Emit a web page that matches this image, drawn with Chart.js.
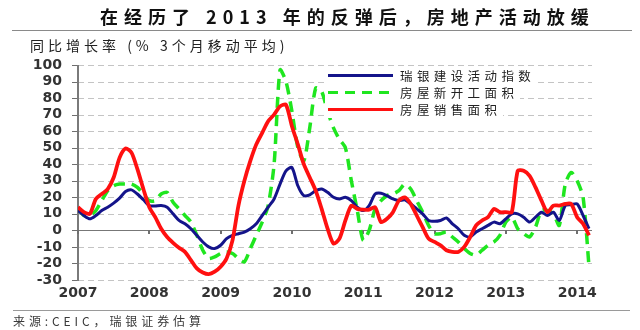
<!DOCTYPE html>
<html>
<head>
<meta charset="utf-8">
<script src="https://cdn.jsdelivr.net/npm/chart.js@4.4.0/dist/chart.umd.min.js"></script>
<style>
  html, body { margin: 0; padding: 0; background: #fff; }
  #wrap { position: relative; width: 640px; height: 330px; overflow: hidden; font-family: "Noto Sans CJK SC", sans-serif; }
  #grid { position: absolute; left: 0; top: 0; width: 640px; height: 330px; }
  #chart { position: absolute; left: 0; top: 0; }
  .txt { position: absolute; white-space: nowrap; color: #222; }
  #title { left: 100px; top: 5px; font-size: 18px; line-height: 22px; font-weight: bold; color: #111; letter-spacing: 6px; }
  #sub { left: 30px; top: 36px; font-size: 14px; line-height: 18px; letter-spacing: 4px; }
  #src { left: 13px; top: 313px; font-size: 12px; line-height: 16px; color: #3a3a3a; letter-spacing: 3.9px; }
  .rule { position: absolute; height: 0; border-top: 1.5px solid #8a8a8a; }
  #legend { position: absolute; left: 325px; top: 67px; }
  .lg-row { position: relative; height: 17px; background: #fff; }
  .lg-line { position: absolute; left: 3px; top: 7px; width: 65px; height: 3px; }
  .lg-text { position: absolute; left: 75px; top: 0; font-size: 12.5px; line-height: 17px; white-space: nowrap; letter-spacing: 4.4px; color: #222; }
  .gl { position: absolute; height: 1px; background: repeating-linear-gradient(to right, #c4c4c4 0 6px, transparent 6px 10px); }
  .zl { position: absolute; height: 1px; background: #777; }
  .ax { position: absolute; width: 2px; background: #7a7a7a; }
  .tk { position: absolute; height: 1px; width: 6px; background: #6f6f6f; }
  .yt { position: absolute; width: 2px; height: 4px; background: #6f6f6f; }
</style>
</head>
<body>
<div id="wrap">
  <div id="grid"></div>
  <canvas id="chart" width="640" height="330"></canvas>
  <div class="txt" id="title">在经历了 2013 年的反弹后，房地产活动放缓</div>
  <div class="rule" style="left:12px; width:620px; top:30px;"></div>
  <div class="txt" id="sub">同比增长率 (% 3个月移动平均)</div>
  <div id="legend"></div>
  <div class="rule" style="left:13px; width:617px; top:310px; border-top-color:#9a9a9a;"></div>
  <div class="txt" id="src">来源:CEIC，瑞银证券估算</div>
</div>
<script>
// ─── Data (monthly, Jan 2007 – Mar 2014) ───
const yearLabels = ['2007', '2008', '2009', '2010', '2011', '2012', '2013', '2014'];
const seriesNames = ['瑞银建设活动指数', '房屋新开工面积', '房屋销售面积'];

const ubsActivity = [
  12, 9, 7, 9, 12, 14, 16.5, 19.5, 23.5, 24.5, 22, 18.5,
  15, 14.8, 15, 14, 10, 6, 4, 1, -3, -7, -10, -11,
  -9, -5, -3, -2, -1, 1, 4, 9, 14, 19, 28, 36,
  38, 27, 21, 21.5, 24, 25, 23, 20, 19, 20, 18, 14,
  12, 15, 22, 22.5, 21, 19, 18, 18.5, 16, 13, 10, 6,
  5.5, 6, 7.5, 4, 1, -3, -4, -1, 1, 3, 5, 4,
  7, 10, 10, 8, 5, 8, 11, 9, 11, 6, 15, 15.5,
  16, 9, 1
];
const newStarts = [
  13, 9, 9, 12, 18, 24, 27, 28, 28, 28, 26, 22,
  18, 18, 22, 23, 17, 13, 9, 5, -3, -12, -17, -16,
  -14, -13, -14, -17, -19, -11, -3, 5, 15, 40, 97, 90,
  72, 50, 42, 62, 86, 84, 72, 62, 55, 50, 30, 12,
  -6, 0, 13, 18, 21, 22, 24, 28, 25, 18, 11, 3,
  -2, -2, -1, -4, -7, -11, -14, -15, -12, -9, -7, -3,
  5, 8, 1, -2, -4, 2, 12, 12, 10, 3, 28, 35,
  30, 20, -22
];
const salesArea = [
  14, 11, 10, 19, 22, 25, 32, 44, 49.5, 47, 37, 25,
  14, 8, 1, -4, -7.5, -10.5, -13, -18, -23, -25.5, -26.5, -25,
  -22, -17, -6, 15, 30, 42, 52, 59, 66, 70, 75, 76,
  63, 52, 40, 32, 24, 13, 1, -8, -5, 6, 15, 13,
  12.5, 12.5, 14, 5, 7, 11, 18, 20, 16, 9, 2, -5,
  -7, -9, -12, -13, -13, -10, -4, 3, 6, 8, 13, 11,
  11, 11, 36, 36, 33, 26, 18, 11, 15, 15, 16, 16,
  8, 4, -3
];
const months = ubsActivity.map((_, i) => i);   // months since Jan 2007

const COLORS = { navy: '#14148a', green: '#1fe61f', red: '#ff1010' };

// ─── Legend (HTML, sits inside the plot) ───
const legendItems = [
  { name: seriesNames[0], bg: COLORS.navy, w: 212 },
  { name: seriesNames[1], bg: `repeating-linear-gradient(to right, ${COLORS.green} 0 10px, transparent 10px 17px)`, w: 195 },
  { name: seriesNames[2], bg: COLORS.red, w: 178 },
];
document.getElementById('legend').innerHTML = legendItems.map(it => `
  <div class="lg-row" style="width:${it.w}px">
    <div class="lg-line" style="background:${it.bg}"></div>
    <div class="lg-text">${it.name}</div>
  </div>`).join('');

const tickFont = { family: '"DejaVu Sans", sans-serif', size: 14, weight: 'bold' };

const chart = new Chart(document.getElementById('chart'), {
  type: 'line',
  data: {
    labels: months,
    datasets: [
      { label: seriesNames[0], data: ubsActivity, borderColor: COLORS.navy, borderWidth: 3, order: 2 },
      { label: seriesNames[1], data: newStarts, borderColor: COLORS.green, borderWidth: 3.5, borderDash: [11, 7], order: 3 },
      { label: seriesNames[2], data: salesArea, borderColor: COLORS.red, borderWidth: 3.8, order: 1 },
    ],
  },
  options: {
    responsive: false,
    animation: false,
    layout: { padding: { left: 0, top: 65, right: 48, bottom: 30 } },
    elements: {
      point: { radius: 0 },
      line: { tension: 0.25, fill: false },
    },
    plugins: { legend: { display: false }, tooltip: { enabled: false } },
    scales: {
      x: {
        type: 'linear', min: 0, max: 86.5,
        grid: { display: false, drawTicks: false },
        border: { display: false },
        ticks: {
          stepSize: 12, includeBounds: false, autoSkip: false, maxRotation: 0,
          padding: 5, color: '#333', font: tickFont,
          callback: v => yearLabels[v / 12] ?? '',
        },
        afterFit: s => { s.height = 20; },
      },
      y: {
        min: -30, max: 100,
        ticks: { stepSize: 10, autoSkip: false, padding: 10, color: '#333', font: tickFont },
        grid: { display: false, drawTicks: true, tickLength: 6 },
        border: { display: false },
        afterFit: s => { s.width = 78; },
      },
    },
  },
});

// ─── Grid, axis line, zero line and tick marks, placed from the chart's scales ───
(function drawGrid() {
  const { x, y } = chart.scales;
  const left = Math.round(x.left), right = Math.round(x.right);
  const y0 = Math.round(y.getPixelForValue(0));
  const top = Math.round(y.getPixelForValue(y.max));
  const bottom = Math.round(y.getPixelForValue(y.min));
  const parts = [];
  y.ticks.forEach(t => {
    const py = Math.round(y.getPixelForValue(t.value));
    if (t.value !== 0) parts.push(`<div class="gl" style="left:${left}px;top:${py}px;width:${right - left}px"></div>`);
    parts.push(`<div class="tk" style="left:${left - 6}px;top:${py}px"></div>`);
  });
  parts.push(`<div class="zl" style="left:${left}px;top:${y0}px;width:${right - left}px"></div>`);
  parts.push(`<div class="ax" style="left:${left - 1}px;top:${top}px;height:${bottom - top + 1}px"></div>`);
  x.ticks.forEach(t => {
    const px = Math.round(x.getPixelForValue(t.value));
    parts.push(`<div class="yt" style="left:${px - 1}px;top:${y0}px"></div>`);
  });
  document.getElementById('grid').innerHTML = parts.join('');
})();
</script>
</body>
</html>
